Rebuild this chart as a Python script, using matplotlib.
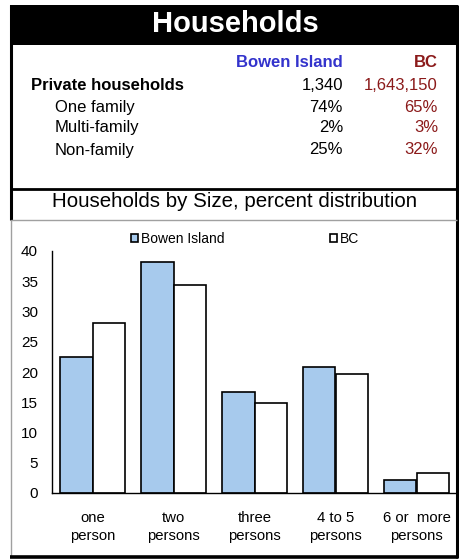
import matplotlib
matplotlib.use("Agg")
import matplotlib.pyplot as plt
from matplotlib.patches import Rectangle
from matplotlib.lines import Line2D
import numpy as np

plt.rcParams['font.family'] = ['Liberation Sans', 'DejaVu Sans']

W, H = 460, 559

# table data
row_labels = ["Private households", "One family", "Multi-family", "Non-family"]
bowen_table = ["1,340", "74%", "2%", "25%"]
bc_table = ["1,643,150", "65%", "3%", "32%"]

# chart data
sizes = ["one\nperson", "two\npersons", "three\npersons", "4 to 5\npersons", "6 or  more\npersons"]
bowen = [22.4, 38.2, 16.7, 20.9, 2.1]
bc = [28.1, 34.4, 14.8, 19.6, 3.3]

BLUE = "#a7caed"
HEAD_BLUE = "#3333cc"
DARK_RED = "#8b1a1a"


def fx(x):
    return x / W


def fy(y):
    return 1 - y / H


fig = plt.figure(figsize=(W / 100, H / 100), dpi=100)

# title bar
fig.patches.append(Rectangle((fx(10), fy(45)), fx(448), 40 / H, transform=fig.transFigure,
                             facecolor="black", edgecolor="none"))
fig.text(fx(235), fy(24), "Households", color="white", fontsize=21, fontweight="bold",
         ha="center", va="center")

# frame lines
def line(x0, y0, x1, y1, color="black", lw=2.0):
    fig.lines.append(Line2D([fx(x0), fx(x1)], [fy(y0), fy(y1)], transform=fig.transFigure,
                            color=color, lw=lw, solid_capstyle="butt"))

line(11, 5, 11, 220, lw=2.2)
line(11, 220, 11, 557, color="#a0a0a0", lw=1.0)
line(457, 5, 457, 558, lw=2.2)
line(10, 189, 458, 189, lw=2.0)
line(11, 220, 457, 220, color="#a0a0a0", lw=1.0)
line(10, 557, 458, 557, lw=2.6)

# table
fs = 12
fig.text(fx(343), fy(62), "Bowen Island", color=HEAD_BLUE, fontsize=fs, fontweight="bold",
         ha="right", va="center")
fig.text(fx(438), fy(62), "BC", color=DARK_RED, fontsize=fs, fontweight="bold",
         ha="right", va="center")
row_y = [86, 108, 128, 150]
for i, lab in enumerate(row_labels):
    if i == 0:
        fig.text(fx(31), fy(row_y[i]), lab, fontsize=fs, fontweight="bold", va="center")
    else:
        fig.text(fx(55), fy(row_y[i]), lab, fontsize=fs, va="center")
    fig.text(fx(343), fy(row_y[i]), bowen_table[i], fontsize=fs, ha="right", va="center")
    fig.text(fx(438), fy(row_y[i]), bc_table[i], fontsize=fs, ha="right", va="center",
             color=DARK_RED)

fig.text(fx(235), fy(202), "Households by Size, percent distribution", fontsize=14.8,
         ha="center", va="center")

# bar chart
ax = fig.add_axes([fx(52), fy(493), 405 / W, 242 / H])
idx = np.arange(len(sizes))
width = 0.4
b1 = ax.bar(idx - width / 2, bowen, width, color=BLUE, edgecolor="black", lw=1.2,
            label="Bowen Island")
b2 = ax.bar(idx + width / 2, bc, width, color="white", edgecolor="black", lw=1.2, label="BC")
ax.set_xlim(-0.5, 4.5)
ax.set_ylim(0, 40)
ax.set_yticks(range(0, 41, 5))
ax.set_xticks(idx)
ax.set_xticklabels(sizes, linespacing=1.4)
ax.tick_params(axis="y", length=0, pad=10, labelsize=11)
ax.tick_params(axis="x", length=0, pad=13, labelsize=10.7)
for s in ["top", "right"]:
    ax.spines[s].set_visible(False)
ax.spines["left"].set_linewidth(1.0)
ax.spines["bottom"].set_linewidth(1.0)

fig.legend(handles=[b1, b2], loc="center left", bbox_to_anchor=(fx(131), fy(239)), ncol=2,
           frameon=False, fontsize=10, handlelength=0.5, handleheight=0.5,
           handletextpad=0.2, columnspacing=7.6, borderaxespad=0, borderpad=0)

fig.savefig("out.png", dpi=100)
